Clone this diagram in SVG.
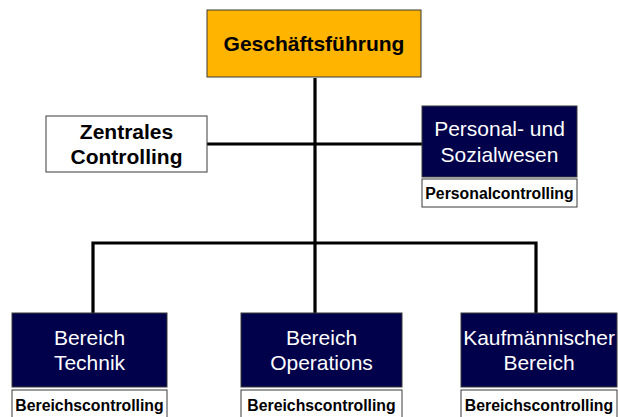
<svg xmlns="http://www.w3.org/2000/svg" width="618" height="417" viewBox="0 0 618 417">
<style>
.bx{stroke:#3a3a3a;stroke-width:1}
.or{fill:#FFB400}
.wh{fill:#FFFFFF}
.nv{fill:#00004B}
.t{font-family:"Liberation Sans",Arial,sans-serif;text-anchor:middle}
.tb{font-weight:bold;fill:#000}
.tw{fill:#FFFFFF}
.big{font-size:21px}
.sm{font-size:15.8px;font-weight:bold;fill:#000}
.ln{fill:none;stroke:#000;stroke-width:3.2;stroke-linejoin:miter}
</style>
<rect width="618" height="417" fill="#FFFFFF"/>
<g id="connectors">
<path class="ln" d="M315,78 V313"/>
<path class="ln" d="M207,144 H422"/>
<path class="ln" d="M93,313 V243 H536 V313"/>
</g>
<g id="gf">
<rect class="bx or" x="207" y="10" width="214" height="67"/>
<text class="t tb big" x="314" y="51">Geschäftsführung</text>
</g>
<g id="zc">
<rect class="bx wh" x="46" y="116" width="161" height="56"/>
<text class="t tb big" x="126.5" y="139">Zentrales</text>
<text class="t tb big" x="126.5" y="164">Controlling</text>
</g>
<g id="ps">
<rect class="bx nv" x="422" y="106" width="155" height="71"/>
<text class="t tw big" x="499.5" y="136">Personal- und</text>
<text class="t tw big" x="499.5" y="161.5">Sozialwesen</text>
</g>
<g id="pc">
<rect class="bx wh" x="422" y="179" width="155" height="28"/>
<text class="t sm" x="499.5" y="198.5">Personalcontrolling</text>
</g>
<g id="bt">
<rect class="bx nv" x="12" y="313" width="155" height="74"/>
<text class="t tw big" x="89.5" y="345">Bereich</text>
<text class="t tw big" x="89.5" y="370">Technik</text>
</g>
<g id="btc">
<rect class="bx wh" x="12" y="390" width="155" height="32"/>
<text class="t sm" x="89.5" y="410.5">Bereichscontrolling</text>
</g>
<g id="bo">
<rect class="bx nv" x="241" y="313" width="161" height="74"/>
<text class="t tw big" x="321.5" y="345">Bereich</text>
<text class="t tw big" x="321.5" y="370">Operations</text>
</g>
<g id="boc">
<rect class="bx wh" x="241" y="390" width="161" height="32"/>
<text class="t sm" x="321.5" y="410.5">Bereichscontrolling</text>
</g>
<g id="kb">
<rect class="bx nv" x="461" y="313" width="156" height="74"/>
<text class="t tw big" x="539" y="345">Kaufmännischer</text>
<text class="t tw big" x="539" y="370">Bereich</text>
</g>
<g id="kbc">
<rect class="bx wh" x="461" y="390" width="156" height="32"/>
<text class="t sm" x="539" y="410.5">Bereichscontrolling</text>
</g>
</svg>
